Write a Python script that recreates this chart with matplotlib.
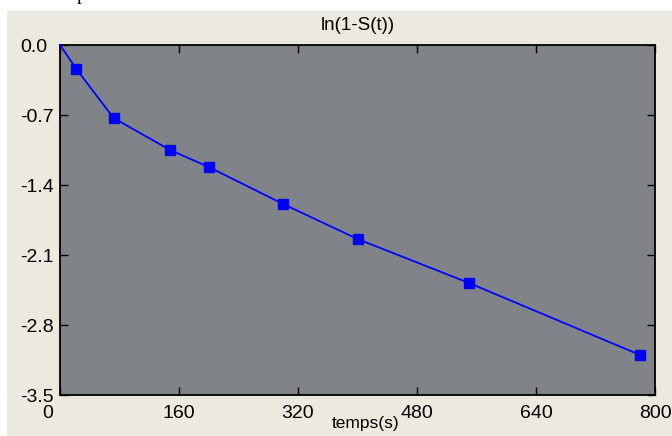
import matplotlib
matplotlib.use("Agg")
import matplotlib.pyplot as plt
from matplotlib.patches import Rectangle
import matplotlib.transforms as mtransforms

# ---- data ----
times = [0, 22, 72, 148, 200, 300, 400, 550, 780]
ln_values = [0.0, -0.24, -0.73, -1.05, -1.22, -1.59, -1.94, -2.38, -3.10]
x_ticks = [0, 160, 320, 480, 640, 800]
y_ticks = [0.0, -0.7, -1.4, -2.1, -2.8, -3.5]
y_tick_labels = ["0.0", "-0.7", "-1.4", "-2.1", "-2.8", "-3.5"]
title = "ln(1-S(t))"
xlabel = "temps(s)"

W, H = 672, 436
DPI = 100
plt.rcParams['font.family'] = ['Liberation Sans', 'DejaVu Sans']

fig = plt.figure(figsize=(W / DPI, H / DPI), dpi=DPI, facecolor="white")

# beige window background
fig.patches.append(Rectangle((7 / W, 0), 1 - 7 / W, (H - 11) / H,
                             transform=fig.transFigure, facecolor="#ECE9DF",
                             edgecolor="none", zorder=-10))
# clipped glyph at top
fig.text(77 / W, 1.0, "p", family="Liberation Serif", fontsize=14,
         ha="left", va="baseline", color="black")

L, R, T, B = 60, 655, 45, 395
ax = fig.add_axes([L / W, (H - B) / H, (R - L) / W, (B - T) / H])
ax.set_zorder(5)
ax.set_facecolor("#808488")

ax.plot(times, ln_values, color="#0000FF", linewidth=1.3, marker="s",
        markersize=7.5, markevery=list(range(1, len(times))),
        markerfacecolor="#0000FF", markeredgecolor="#0000FF", clip_on=False,
        zorder=3)

ax.set_xlim(0, 800)
ax.set_ylim(-3.5, 0.0)
ax.set_xticks(x_ticks)
ax.set_xticklabels([str(v) for v in x_ticks])
ax.set_yticks(y_ticks)
ax.set_yticklabels(y_tick_labels)

for s in ax.spines.values():
    s.set_color("black")
    s.set_linewidth(1.3)

ax.tick_params(axis="both", direction="in", length=5.5, width=1.0,
               color="black", top=True, right=True, labelsize=14)
ax.tick_params(axis="x", pad=7.5)
ax.tick_params(axis="y", pad=28.8)
for lab in ax.get_yticklabels():
    lab.set_ha("left")

# shift the "0" label left
first = ax.get_xticklabels()[0]
first.set_transform(first.get_transform() +
                    mtransforms.ScaledTranslation(-12 / DPI, 0, fig.dpi_scale_trans))

ax.set_title(title, fontsize=13.5, pad=10.5)
ax.set_xlabel(xlabel, fontsize=12.5)
ax.xaxis.set_label_coords((366 - L) / (R - L), (B - 416) / (B - T))

fig.savefig("out.png", dpi=DPI, facecolor="white")
